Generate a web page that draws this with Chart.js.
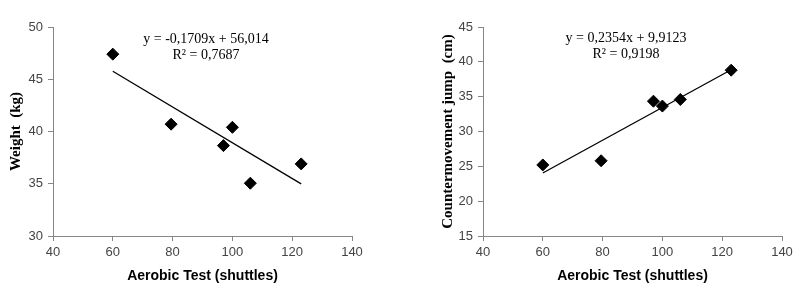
<!DOCTYPE html>
<html>
<head>
<meta charset="utf-8">
<script src="https://cdn.jsdelivr.net/npm/chart.js@4.4.1/dist/chart.umd.min.js"></script>
<style>
  html, body { margin: 0; padding: 0; background: #fff; }
  .wrap { display: flex; width: 805px; height: 290px; }
  .box { position: relative; height: 290px; }
</style>
</head>
<body>
<div class="wrap">
  <div class="box" style="width:400px"><canvas id="weightChart"></canvas></div>
  <div class="box" style="width:405px"><canvas id="cmjChart"></canvas></div>
</div>
<script>
// aerobic test (shuttles) for the six subjects
const shuttles = [60, 79.5, 97, 100, 106, 123];
const weight = [47.4, 40.7, 38.65, 40.4, 35.05, 36.9];
const cmj = [25.2, 25.8, 34.35, 33.65, 34.6, 38.8];

// trend lines as printed on the charts
const weightFit = { slope: -0.1709, intercept: 56.014, r2: "0,7687" };
const cmjFit = { slope: 0.2354, intercept: 9.9123, r2: "0,9198" };
const fitRange = [60, 123];

const xTicks = [40, 60, 80, 100, 120, 140];

const axisColor = "#868686";
const tickFont = { family: "Liberation Sans", size: 13 };

function fmt(n, d) {
  return n.toFixed(d).replace(".", ",");
}

function equationLabel(fit, cx, y1, y2) {
  return {
    id: "equation",
    afterDraw(chart) {
      const ctx = chart.ctx;
      const sign = fit.intercept < 0 ? " - " : " + ";
      const line1 = "y = " + fmt(fit.slope, 4) + "x" + sign + fmt(Math.abs(fit.intercept), fit.intercept > 20 ? 3 : 4);
      ctx.save();
      ctx.fillStyle = "#000";
      ctx.font = "14px 'Liberation Serif'";
      ctx.textAlign = "center";
      ctx.textBaseline = "middle";
      ctx.fillText(line1, cx, y1);
      ctx.fillText("R\u00b2 = " + fit.r2, cx, y2);
      ctx.restore();
    },
  };
}

function makeChart(id, yValues, fit, yMin, yMax, yStep, yTitle, yWidth, padLeft, padRight, eq) {
  const ctx = document.getElementById(id).getContext("2d");
  return new Chart(ctx, {
    type: "scatter",
    data: {
      datasets: [
        {
          data: shuttles.map((x, i) => ({ x: x, y: yValues[i] })),
          pointStyle: "rectRot",
          radius: 6,
          backgroundColor: "#000",
          borderColor: "#000",
        },
        {
          data: fitRange.map((x) => ({ x: x, y: fit.slope * x + fit.intercept })),
          showLine: true,
          borderColor: "#000",
          borderWidth: 1.3,
          pointRadius: 0,
        },
      ],
    },
    options: {
      responsive: true,
      maintainAspectRatio: false,
      animation: false,
      layout: { padding: { left: padLeft, right: padRight, top: 27, bottom: 5 } },
      plugins: { legend: { display: false }, tooltip: { enabled: false } },
      scales: {
        x: {
          min: 40,
          max: 140,
          afterBuildTicks: (s) => { s.ticks = xTicks.map((v) => ({ value: v })); },
          afterFit: (s) => { s.height = 49; },
          grid: { drawOnChartArea: false, drawTicks: true, tickLength: 5, color: axisColor },
          border: { color: axisColor },
          ticks: { color: "#444", font: tickFont, padding: 4, maxRotation: 0 },
          title: {
            display: true,
            text: "Aerobic Test (shuttles)",
            color: "#000",
            font: { family: "Liberation Sans", size: 14, weight: "bold" },
            padding: { top: 4, bottom: 0 },
          },
        },
        y: {
          min: yMin,
          max: yMax,
          ticks: { stepSize: yStep, color: "#444", font: tickFont, padding: 5 },
          afterFit: (s) => { s.width = yWidth; },
          grid: { drawOnChartArea: false, drawTicks: true, tickLength: 5, color: axisColor },
          border: { color: axisColor },
          title: {
            display: true,
            text: yTitle,
            color: "#000",
            font: { family: "Liberation Serif", size: 15, weight: "bold" },
            padding: { top: 3, bottom: 0 },
          },
        },
      },
    },
    plugins: [eq],
  });
}

makeChart("weightChart", weight, weightFit, 30, 50, 5, "Weight  (kg)", 49, 4, 48,
  equationLabel(weightFit, 206, 39, 55));
makeChart("cmjChart", cmj, cmjFit, 15, 45, 5, "Countermovement jump  (cm)", 47, 36, 23,
  equationLabel(cmjFit, 226, 38, 54));
</script>
</body>
</html>
